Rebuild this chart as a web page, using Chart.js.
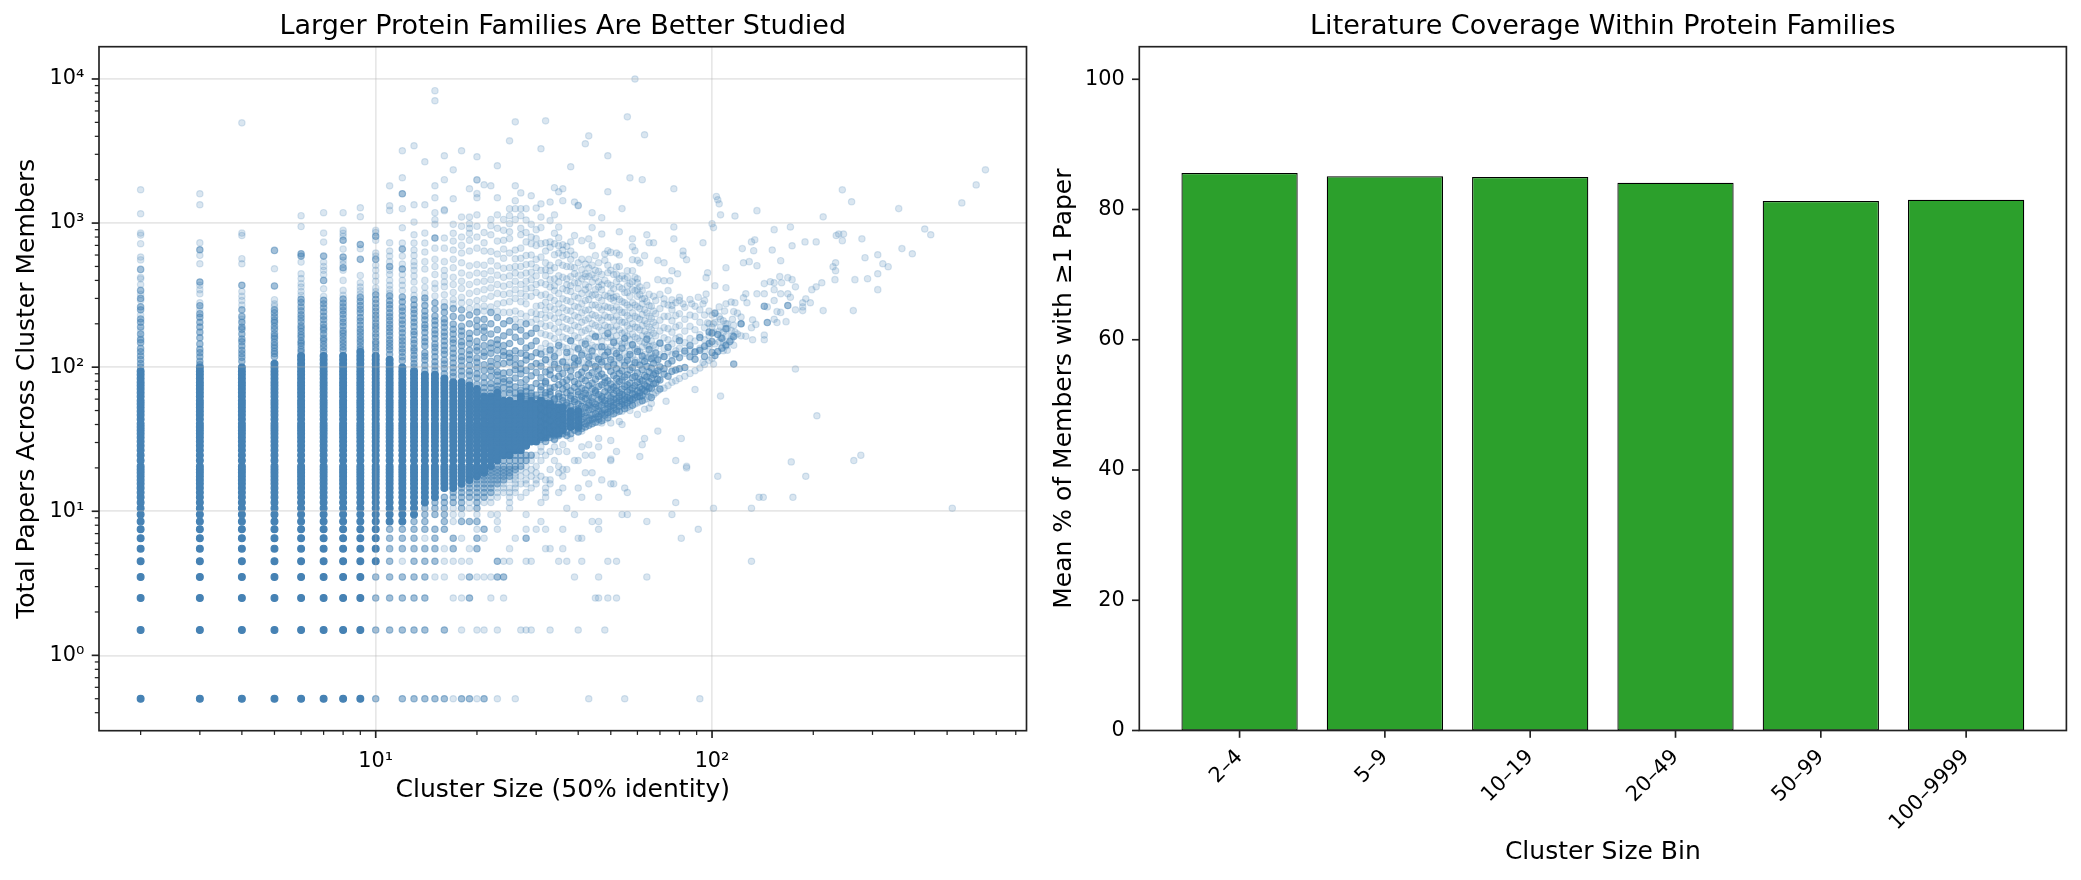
<!DOCTYPE html>
<html>
<head>
<meta charset="utf-8">
<style>
    html, body { margin: 0; background: #fff; }
    canvas { position: absolute; top: 0; }
</style>
<script src="https://cdn.jsdelivr.net/npm/chart.js@4"></script>
</head>
<body>
<canvas id="scatter-box" width="1040" height="880" style="left:0"></canvas>
<canvas id="bar-box" width="1041" height="880" style="left:1040px"></canvas>
<script>
// right panel
const categories = ['2–4', '5–9', '10–19', '20–49', '50–99', '100–9999'];
const coverage = [85.6, 85.1, 85.0, 84.1, 81.3, 81.5];
const coverageTicks = [0, 20, 40, 60, 80, 100];

// left panel ticks
const xMajorTicks = [10, 100];
const xMajorLabels = ['10¹', '10²'];
const xMinorTicks = [2, 3, 4, 5, 6, 7, 8, 9, 20, 30, 40, 50, 60, 70, 80, 90, 200, 300, 400, 500, 600, 700, 800];
const yMajorTicks = [1, 10, 100, 1000, 10000];
const yMajorLabels = ['10⁰', '10¹', '10²', '10³', '10⁴'];
const yMinorTicks = [0.4, 0.5, 0.6, 0.7, 0.8, 0.9, 2, 3, 4, 5, 6, 7, 8, 9, 20, 30, 40, 50, 60, 70, 80, 90,
    200, 300, 400, 500, 600, 700, 800, 900, 2000, 3000, 4000, 5000, 6000, 7000, 8000, 9000];

// fully overplotted columns: each cluster size covers denseRows between solidBottom and solidTop
const denseRows = [0.5, 1.5, 2.5, 3.5, 4.5, 5.5, 6.5, 7.5, 8.5, 9.5, 10.5, 11.5, 12.5, 13.5, 14.5, 15.5, 16.5, 17.5, 18.5, 19.5, 20.5,
    22.5, 24.5, 26.5, 28.5, 30.5, 32.5, 34.5, 36.5, 38.5, 40.5, 43.5, 46.5, 49.5, 52.5, 55.5, 58.5, 62.5, 66.5, 70.5, 74.5, 78.5,
    83.5, 88.5, 93.5, 99.5, 105.5, 112.5, 119.5, 127.5];
const clusterSizes = [2, 3, 4, 5, 6, 7, 8, 9, 10, 11, 12, 13, 14, 15, 16, 17, 18, 19, 20, 21, 22, 23, 24, 25, 26, 27, 28, 29, 30,
    31, 32, 33, 34, 35, 36, 38, 40];
const solidBottom = [0.5, 0.5, 0.5, 0.5, 0.5, 0.5, 0.5, 0.5, 4.5, 8.5, 8.5, 9.5, 11.5, 12.5, 14, 14.5, 15, 16.5, 17, 18, 20, 22, 24, 24, 25, 26, 28, 29, 30,
    31, 32, 33, 34, 34, 35, 37, 38];
const solidTop = [95, 100, 105, 110, 120, 122, 125, 128, 125, 118, 105, 95, 92, 90, 85, 80, 82, 75, 72, 66, 64, 68, 60, 62, 58, 64, 56, 60, 58,
    60, 58, 56, 55, 54, 54, 52, 50];

// [x, y, y, ...]
const mediumColumns = [
    [2, 100, 106, 113, 120, 128, 135, 148, 155, 170, 190, 205, 216, 250, 262, 300, 341, 477],
    [3, 104, 110, 118, 126, 133, 145, 160, 175, 190, 205, 222, 235, 267, 390, 653],
    [4, 110, 117, 124, 131, 140, 150, 157, 170, 183, 190, 205, 225, 250, 370],
    [5, 118, 124, 129, 136, 142, 149, 158, 164, 171, 183, 192, 204, 212, 224, 238, 250, 366, 646],
    [6, 128, 133, 141, 147, 152, 161, 168, 177, 186, 194, 207, 219, 231, 246, 262, 281, 296, 590, 612],
    [7, 129, 137, 144, 153, 159, 170, 181, 188, 199, 213, 226, 242, 258, 275, 291, 400, 590],
    [8, 131, 138, 146, 154, 163, 172, 180, 193, 205, 218, 233, 247, 262, 279, 297, 490, 581, 760],
    [9, 133, 140, 149, 156, 165, 175, 184, 196, 209, 221, 238, 252, 268, 286, 305, 560, 710],
    [10, 130, 137, 145, 151, 162, 171, 183, 192, 203, 217, 229, 244, 259, 277, 296, 318, 560, 810],
    [11, 123, 132, 139, 147, 155, 166, 176, 187, 198, 211, 224, 238, 255, 271, 289, 312, 500],
    [12, 111, 118, 127, 134, 143, 152, 161, 173, 185, 199, 212, 228, 245, 261, 284, 307, 480, 660, 1597],
    [13, 100, 106, 114, 121, 130, 136, 146, 155, 168, 177, 191, 205, 219, 236, 251, 270, 295],
    [14, 95, 103, 112, 119, 126, 140, 150, 160, 174, 187, 197, 213, 227, 245, 268, 302],
    [15, 95, 102, 109, 118, 128, 137, 145, 158, 170, 181, 196, 210, 226, 252, 280, 788],
    [16, 90, 98, 105, 112, 123, 131, 141, 152, 164, 175, 189, 203, 216, 240, 262],
    [17, 86, 92, 99, 107, 116, 125, 135, 147, 156, 170, 183, 199, 225, 255],
    [18, 87, 94, 102, 111, 118, 129, 141, 150, 165, 178, 192, 220, 250],
    [19, 80, 88, 94, 103, 113, 122, 131, 146, 158, 172, 200, 230],
    [20, 76, 84, 90, 99, 108, 116, 130, 138, 151, 175, 192, 212, 241],
    [21, 67, 72, 78, 85, 95, 104, 119, 127, 141, 160, 178, 190, 215],
    [22, 66, 72, 77, 86, 95, 101, 110, 125, 136, 147, 170, 200, 240],
    [23, 70, 74, 80, 88, 93, 104, 115, 131, 144, 155, 182, 221],
    [24, 65, 72, 79, 83, 91, 106, 120, 128, 141, 165, 200],
    [25, 66, 70, 76, 81, 92, 108, 117, 125, 146, 175, 210],
    [26, 61, 66, 73, 84, 96, 103, 115, 130, 161, 190],
    [27, 66, 69, 78, 90, 97, 106, 125, 151, 181],
    [28, 60, 63, 68, 73, 82, 95, 112, 121, 136, 165, 200],
    [29, 63, 66, 72, 87, 101, 118, 141, 172],
    [30, 60, 64, 77, 92, 106, 126, 152, 186],
    [31, 31.5, 33.5, 36.5, 38.5, 41.5, 45.5, 46.5, 51.5, 52.5, 58.5, 61.5, 69.5, 73.5, 84.5, 101.5, 123.5],
    [32, 30.5, 34.5, 35.5, 40.5, 43.5, 44.5, 49.5, 55.5, 56.5, 63.5, 66.5, 77.5, 79.5, 92.5, 112.5],
    [33, 32.5, 35.5, 37.5, 42.5, 47.5, 50.5, 54.5, 57.5, 64.5, 67.5, 71.5, 88.5, 95.5, 131.5],
    [34, 31.5, 33.5, 38.5, 39.5, 45.5, 48.5, 53.5, 59.5, 60.5, 72.5, 83.5, 104.5, 118.5],
    [35, 33.5, 36.5, 41.5, 44.5, 46.5, 51.5, 55.5, 62.5, 65.5, 75.5, 86.5, 97.5, 141.5],
    [36, 34.5, 37.5, 39.5, 43.5, 49.5, 52.5, 58.5, 61.5, 70.5, 78.5, 90.5, 108.5],
    [37, 33.5, 35.5, 40.5, 42.5, 47.5, 54.5, 56.5, 66.5, 73.5, 81.5, 99.5, 126.5],
    [38, 34.5, 38.5, 41.5, 45.5, 48.5, 53.5, 60.5, 63.5, 68.5, 85.5, 94.5, 152.5],
    [39, 36.5, 39.5, 44.5, 46.5, 50.5, 57.5, 59.5, 72.5, 79.5, 103.5, 115.5],
    [40, 35.5, 37.5, 42.5, 49.5, 51.5, 55.5, 64.5, 67.5, 76.5, 88.5, 110.5, 134.5],
    [41, 37.5, 41.5, 43.5, 47.5, 53.5, 58.5, 62.5, 71.5, 83.5, 92.5, 121.5],
    [42, 38.5, 40.5, 45.5, 48.5, 52.5, 60.5, 65.5, 69.5, 80.5, 98.5, 144.5],
    [43, 39.5, 42.5, 44.5, 50.5, 54.5, 56.5, 63.5, 74.5, 87.5, 105.5, 117.5],
    [44, 40.5, 43.5, 46.5, 51.5, 57.5, 61.5, 70.5, 77.5, 91.5, 129.5],
    [45, 41.5, 44.5, 47.5, 52.5, 55.5, 66.5, 68.5, 82.5, 101.5, 162.5],
    [46, 43.5, 45.5, 49.5, 53.5, 59.5, 64.5, 73.5, 86.5, 96.5, 113.5],
    [47, 42.5, 47.5, 48.5, 54.5, 60.5, 62.5, 75.5, 89.5, 108.5, 138.5],
    [48, 46.5, 50.5, 56.5, 58.5, 67.5, 78.5, 84.5, 120.5],
    [49, 44.5, 48.5, 51.5, 55.5, 63.5, 71.5, 80.5, 100.5, 127.5, 171.5],
    [50, 49.5, 53.5, 57.5, 61.5, 69.5, 76.5, 93.5, 112.5],
    [51, 47.5, 52.5, 54.5, 59.5, 65.5, 72.5, 87.5, 104.5, 148.5],
    [52, 50.5, 56.5, 60.5, 68.5, 74.5, 83.5, 97.5, 124.5],
    [53, 49.5, 53.5, 58.5, 62.5, 66.5, 79.5, 90.5, 116.5],
    [54, 55.5, 57.5, 64.5, 70.5, 81.5, 94.5, 135.5],
    [55, 51.5, 54.5, 59.5, 63.5, 73.5, 85.5, 102.5, 158.5],
    [56, 56.5, 61.5, 67.5, 75.5, 88.5, 111.5],
    [57, 58.5, 60.5, 69.5, 77.5, 95.5, 122.5],
    [58, 54.5, 59.5, 65.5, 71.5, 84.5, 99.5, 143.5],
    [59, 61.5, 64.5, 74.5, 86.5, 107.5],
    [60, 62.5, 68.5, 78.5, 91.5, 128.5],
    [61, 62.5, 66.5, 72.5, 82.5, 103.5],
    [62, 58.5, 63.5, 70.5, 80.5, 96.5, 119.5],
    [63, 68.5, 75.5, 87.5, 109.5],
    [64, 67.5, 73.5, 85.5, 101.5, 156.5],
    [65, 71.5, 79.5, 92.5, 132.5],
    [66, 61.5, 71.5, 83.5, 98.5, 114.5],
    [67, 76.5, 88.5, 106.5],
    [68, 77.5, 90.5, 125.5],
    [69, 82.5, 94.5, 112.5],
    [70, 70.5, 81.5, 100.5, 146.5],
    [72, 89.5, 97.5, 118.5],
    [74, 86.5, 105.5, 137.5],
    [76, 93.5, 110.5],
    [78, 95.5, 123.5],
    [80, 97.5, 116.5, 152.5],
    [83, 99.5, 129.5],
    [86, 118, 141.5],
    [89, 113.5, 127.5],
    [92, 131, 160.5],
    [95, 118.5, 139.5],
    [98, 146, 175.5],
    [100, 126.5, 150.5, 172.5],
    [102, 120.5, 237],
    [104, 128.5, 168.5],
    [107, 135.5, 158.5],
    [110, 142.5, 185],
    [113, 150.5],
    [116, 105, 163],
    [122, 200],
    [143, 265],
    [146, 204],
    [168, 268]
];

const lightColumns = [
    [2, 1703, 1160, 852, 825, 719, 581, 555, 420, 410, 375, 320, 290, 230, 180, 160],
    [3, 1597, 1340, 730, 597, 522, 370, 345, 323, 280, 250],
    [4, 4960, 852, 820, 566, 522, 335, 310, 290, 270, 215],
    [5, 482, 294, 275, 265],
    [6, 1125, 947, 536, 445, 412, 380, 360, 335, 315],
    [7, 1180, 852, 738, 536, 500, 470, 440, 350, 310],
    [8, 1180, 890, 850, 810, 660, 550, 520, 470, 400, 341, 315],
    [9, 1277, 1106, 663, 433, 385, 360, 340, 322],
    [10, 890, 860, 760, 620, 590, 510, 470, 430, 395, 355, 335],
    [11, 1813, 1319, 1224, 730, 640, 590, 540, 470, 440, 400, 370, 345, 325],
    [12, 3175, 2063, 1258, 928, 727, 590, 520, 440, 400, 370, 340],
    [13, 3441, 1340, 1016, 830, 727, 650, 540, 470, 430, 390, 315, 345, 505, 596],
    [14, 2663, 1340, 852, 727, 630, 540, 480, 400, 358, 326, 288],
    [15, 8290, 7060, 1815, 1499, 1180, 1055, 980, 670, 560, 500, 440, 380, 312, 352],
    [16, 2932, 2000, 1236, 1220, 788, 670, 540, 470, 430, 390, 318, 362, 283],
    [17, 2340, 1475, 980, 850, 750, 650, 560, 490, 420, 375, 330, 295, 275],
    [18, 3175, 1100, 950, 800, 700, 620, 530, 450, 395, 352, 305, 280],
    [19, 1730, 1100, 990, 850, 760, 640, 505, 435, 375, 325, 282, 255, 920],
    [20, 2886, 2000, 1990, 1600, 1499, 1140, 800, 670, 515, 450, 390, 335, 290, 262, 950],
    [21, 1843, 730, 640, 510, 445, 395, 345, 298, 265, 245, 860],
    [22, 1815, 1060, 830, 635, 545, 465, 405, 355, 310, 262, 960],
    [23, 2500, 1499, 1140, 920, 750, 610, 505, 435, 375, 325, 275, 245],
    [24, 760, 660, 570, 485, 420, 365, 320, 280, 240, 890, 1060],
    [25, 3720, 1258, 1125, 870, 620, 490, 430, 375, 325, 285, 240, 780, 990],
    [26, 5040, 1815, 1430, 1258, 650, 565, 500, 450, 395, 345, 300, 245, 215, 1060],
    [27, 1620, 1258, 1125, 920, 670, 570, 500, 435, 375, 325, 285, 235, 205, 830],
    [28, 1050, 740, 595, 515, 450, 395, 350, 310, 275, 225, 860, 1260],
    [29, 1547, 980, 800, 600, 520, 455, 405, 355, 310, 240, 205, 720],
    [30, 1270, 900, 700, 560, 490, 430, 375, 330, 265, 235, 215, 780],
    [31, 3280, 1360, 1100, 930, 720, 580, 470, 385, 315, 268, 232, 200, 172, 135, 107, 26, 28],
    [32, 5120, 730, 474, 431, 640, 530, 375, 320, 282, 250, 220, 192, 168, 146, 128, 112],
    [33, 1400, 1040, 740, 510, 467, 405, 680, 360, 305, 262, 228, 195, 165, 140, 122, 108, 26],
    [34, 1760, 1140, 718, 603, 367, 850, 490, 410, 340, 290, 252, 218, 185, 158, 132, 115, 100, 28, 32],
    [35, 1650, 940, 696, 530, 431, 790, 620, 390, 325, 275, 238, 205, 175, 148, 126, 105, 26],
    [36, 1730, 1430, 707, 594, 650, 510, 420, 350, 298, 258, 222, 190, 162, 138, 110, 29],
    [37, 603, 373, 690, 500, 410, 340, 290, 248, 215, 185, 158, 135, 118, 102, 26],
    [38, 2460, 740, 498, 367, 640, 560, 425, 335, 285, 245, 210, 180, 152, 128, 108, 32],
    [39, 1400, 820, 445, 600, 490, 385, 310, 265, 228, 195, 165, 138, 115, 100],
    [40, 1330, 1320, 385, 530, 430, 350, 302, 260, 222, 190, 160, 132, 105, 36],
    [41, 755, 474, 560, 410, 325, 275, 238, 205, 175, 148, 125, 108, 36, 28],
    [42, 3550, 425, 373, 520, 445, 345, 290, 248, 212, 180, 152, 130, 100],
    [43, 4030, 777, 488, 427, 323, 560, 360, 295, 250, 218, 185, 158, 135, 112, 29],
    [44, 1180, 930, 696, 438, 510, 390, 315, 270, 232, 200, 170, 142, 120, 105],
    [45, 594, 345, 470, 415, 320, 270, 228, 195, 165, 138, 118, 100],
    [46, 462, 392, 530, 360, 305, 260, 220, 190, 162, 138, 115, 41.5, 28, 32],
    [47, 1090, 840, 373, 440, 345, 290, 250, 212, 180, 152, 128, 104, 41],
    [48, 551, 610, 400, 315, 265, 228, 195, 165, 138, 110, 43.5],
    [49, 2930, 1650, 643, 452, 510, 380, 310, 260, 222, 190, 160, 132, 102],
    [50, 626, 328, 470, 370, 300, 258, 222, 190, 162, 138, 118, 46.5, 41, 31, 23],
    [51, 306, 440, 350, 290, 248, 212, 180, 152, 130, 108],
    [52, 620, 495, 392, 440, 310, 262, 225, 192, 165, 140, 120, 48.5, 26],
    [53, 870, 600, 411, 500, 360, 295, 250, 212, 182, 152, 128, 105, 42],
    [54, 1260, 430, 350, 285, 240, 205, 172, 145, 112, 49.5, 40],
    [55, 410, 330, 280, 240, 205, 175, 148, 125, 108],
    [56, 5460, 467, 367, 420, 330, 270, 228, 195, 165, 140, 118, 52.5],
    [57, 2060, 380, 310, 260, 218, 185, 155, 130, 105, 53.5, 50],
    [58, 777, 685, 557, 467, 392, 345, 280, 238, 200, 170, 142, 120],
    [59, 10000, 643, 420, 340, 270, 225, 190, 162, 135, 112, 55.5],
    [60, 551, 385, 345, 410, 310, 262, 220, 188, 158, 132, 108, 56.5, 47],
    [61, 528, 361, 320, 255, 215, 182, 152, 128, 57.5, 24],
    [62, 2000, 298, 340, 275, 232, 195, 165, 138, 112, 29],
    [63, 4100, 594, 300, 250, 210, 178, 148, 122, 59.5, 51, 32],
    [64, 830, 370, 285, 238, 200, 168, 142, 115, 60.5],
    [65, 730, 320, 268, 225, 190, 165, 140, 118, 62.5, 52],
    [66, 265, 218, 182, 152, 125, 56],
    [67, 730, 310, 245, 205, 172, 142, 118, 64.5],
    [68, 290, 235, 195, 165, 138, 112, 66.5],
    [69, 551, 405, 68.5, 36],
    [70, 320, 255, 212, 178, 148, 122],
    [72, 530, 398, 298, 275, 225, 188, 160, 135, 118, 71.5],
    [73, 58],
    [74, 340, 270, 225, 185, 155, 128, 74.5],
    [75, 398],
    [76, 467, 293, 268, 250, 210, 175, 145, 122, 78.5],
    [77, 1730, 940, 777],
    [78, 280, 228, 190, 158, 130, 80.5, 22.5],
    [79, 445],
    [80, 306, 290, 235, 195, 162, 135, 83.5],
    [81, 32],
    [82, 640, 597, 275],
    [83, 260, 215, 178, 148, 125, 86.5],
    [84, 557, 20],
    [86, 295, 230, 192, 158, 132, 90.5],
    [87, 275],
    [89, 265, 225, 182, 152, 128, 94.5, 70],
    [91, 306],
    [92, 250, 205, 168, 135, 98.5],
    [94, 730, 275, 108],
    [95, 290, 230, 188, 155, 130, 104.5],
    [96, 418, 322],
    [97, 452, 203],
    [98, 245, 200, 165, 140, 111.5],
    [100, 990, 230, 190, 115.5],
    [101, 930, 200, 175, 105],
    [102, 367, 205, 145],
    [103, 1530],
    [104, 1450],
    [105, 1360, 262, 225, 178, 150],
    [106, 1140, 215, 190, 160, 63],
    [108, 210, 175, 149, 130],
    [109, 245],
    [110, 356, 490, 275, 200, 165, 140],
    [111, 200, 131, 185],
    [114, 283, 180, 155],
    [115, 215, 165],
    [116, 243, 142, 195],
    [117, 1120, 280, 175],
    [119, 237, 170],
    [122, 223, 200, 165],
    [123, 665],
    [124, 530, 303],
    [126, 323, 164],
    [127, 280],
    [129, 540],
    [131, 740, 188],
    [132, 213, 155],
    [133, 643],
    [134, 765],
    [135, 198],
    [136, 1220, 506, 323],
    [143, 380, 323, 167, 155],
    [146, 262],
    [149, 392],
    [151, 650],
    [153, 900, 385, 345, 290, 215],
    [156, 243, 204],
    [159, 425],
    [160, 548, 323, 240],
    [161, 385],
    [166, 207],
    [168, 418, 323],
    [171, 940, 306],
    [172, 22],
    [173, 696, 405],
    [177, 361, 250, 97],
    [186, 280, 262, 247],
    [189, 740],
    [190, 298],
    [196, 280],
    [198, 345],
    [204, 740, 361],
    [205, 46],
    [212, 385],
    [214, 1105, 247],
    [229, 498],
    [232, 405],
    [233, 467, 530],
    [234, 820],
    [238, 840],
    [244, 1700, 755],
    [246, 840],
    [260, 1405],
    [263, 247],
    [266, 405],
    [279, 777],
    [285, 575],
    [290, 411],
    [311, 603, 445, 345],
    [322, 522],
    [334, 498],
    [359, 1260],
    [367, 665],
    [394, 612],
    [429, 910],
    [447, 830],
    [553, 1380],
    [610, 1840],
    [650, 2340]
];

// [y, x, x, ...] for the discrete low rows
const mediumRows = [
    [0.5, 10, 12, 13, 14, 15, 16, 18, 19, 21],
    [1.5, 10, 11, 12, 13, 14, 16],
    [2.5, 10, 11, 12, 13, 14, 19],
    [3.5, 10, 11, 12, 13, 14, 19, 23, 24],
    [4.5, 11, 13, 14, 15, 23],
    [5.5, 11, 12, 13, 14, 15, 17, 20],
    [6.5, 11, 12, 13, 15, 17, 20, 28],
    [7.5, 11, 12, 13, 14, 15, 16, 21],
    [8.5, 13, 14, 16, 18, 19, 20],
    [9.5, 14, 15, 16],
    [10.5, 14, 15, 16, 18, 20],
    [11.5, 15, 16, 17, 18, 20],
    [12.5, 16, 17, 18, 19, 20, 21],
    [13.5, 17, 18, 19, 20, 21, 22],
    [14.5, 18, 19, 20, 21, 22],
    [15.5, 19, 20, 21, 22, 23],
    [16.5, 19, 20, 21, 22, 23, 24],
    [17.5, 20, 21, 22, 23, 24, 25],
    [18.5, 22, 23, 24, 25],
    [19.5, 22, 23, 24, 25, 26],
    [20.5, 23, 24, 25, 26, 27],
    [22.5, 24, 25, 26, 27, 28],
    [24.5, 25, 26, 27, 28, 29]
];
const lightRows = [
    [0.5, 17, 20, 23, 26, 43, 55, 92],
    [1.5, 18, 20, 21, 23, 27, 28, 29, 33, 40, 48],
    [2.5, 17, 18, 22, 24, 45, 46, 49, 52],
    [3.5, 15, 16, 18, 20, 21, 22, 39, 46, 64],
    [4.5, 12, 16, 17, 18, 19, 24, 25, 28, 29, 35, 37, 41, 49, 52, 131],
    [5.5, 16, 19, 25, 32, 33, 36],
    [6.5, 14, 18, 21, 26, 40, 41, 81],
    [7.5, 20, 23, 28, 30, 32, 36, 46, 91],
    [8.5, 17, 23, 31, 44, 46, 64],
    [9.5, 17, 18, 20, 22, 23, 28, 39, 54, 56, 76],
    [10.5, 17, 19, 25, 37, 101, 131, 518],
    [11.5, 19, 21, 22, 25, 31, 78],
    [12.5, 22, 23, 25, 27, 32, 41, 46, 138, 142, 174],
    [13.5, 23, 24, 25, 26, 28, 32, 35, 56],
    [14.5, 23, 24, 25, 26, 29, 32, 36, 40, 55],
    [15.5, 24, 26, 27, 28, 30, 33, 43, 50, 51],
    [16.5, 25, 26, 28, 30, 32, 33, 47],
    [17.5, 26, 27, 29, 31, 36, 104, 190],
    [18.5, 26, 28, 30, 35, 42, 44],
    [19.5, 27, 29, 33, 36, 37],
    [20.5, 28, 30, 35, 84],
    [22.5, 29, 31, 34, 39, 40, 50, 264],
    [24.5, 30, 32, 42, 44, 277]
];

const fontFamily = '"DejaVu Sans"';
const textColor = '#000';
const spineColor = '#222';

const fromColumns = list => list.flatMap(([x, ...ys]) => ys.map(y => ({x, y})));
const fromRows = list => list.flatMap(([y, ...xs]) => xs.map(x => ({x, y})));
const solidPoints = clusterSizes.flatMap((x, i) =>
    denseRows.filter(y => y >= solidBottom[i] && y <= solidTop[i]).map(y => ({x, y})));

const pointDataset = (data, alpha, radius) => ({
    data,
    backgroundColor: 'rgba(70, 130, 180, ' + alpha + ')',
    borderColor: 'rgba(70, 130, 180, ' + alpha + ')',
    borderWidth: 1.2,
    pointRadius: radius
});

// frame and matplotlib style long/short ticks
const axesFrame = {
    id: 'axesFrame',
    afterDraw(chart) {
        const {ctx, chartArea: a, scales} = chart;
        ctx.save();
        ctx.strokeStyle = spineColor;
        for (const t of scales.x.ticks) {
            const px = scales.x.getPixelForValue(t.value);
            ctx.lineWidth = t.major ? 1.67 : 1.25;
            ctx.beginPath();
            ctx.moveTo(px, a.bottom);
            ctx.lineTo(px, a.bottom + (t.major ? 7.3 : 4.2));
            ctx.stroke();
        }
        for (const t of scales.y.ticks) {
            const py = scales.y.getPixelForValue(t.value);
            ctx.lineWidth = t.major ? 1.67 : 1.25;
            ctx.beginPath();
            ctx.moveTo(a.left, py);
            ctx.lineTo(a.left - (t.major ? 7.3 : 4.2), py);
            ctx.stroke();
        }
        ctx.lineWidth = 1.67;
        ctx.strokeRect(a.left, a.top, a.width, a.height);
        ctx.restore();
    }
};

const titleOptions = text => ({
    display: true,
    text,
    color: textColor,
    fullSize: false,
    font: {family: fontFamily, size: 27, weight: 'normal'},
    padding: {top: 10.8, bottom: 3.5}
});
const axisTitle = (text, padding) => ({
    display: true,
    text,
    color: textColor,
    font: {family: fontFamily, size: 25},
    padding
});
const tickFont = {family: fontFamily, size: 20.8};

const logTicks = (major, minor) => axis => {
    axis.ticks = major.map(value => ({value, major: true}))
        .concat(minor.map(value => ({value, major: false})));
};
const logLabels = (major, labels) => value => {
    const i = major.indexOf(value);
    return i < 0 ? '' : labels[i];
};
const logGrid = {
    z: 1,
    drawTicks: false,
    lineWidth: 1.67,
    color: c => c.tick && c.tick.major ? 'rgba(176, 176, 176, 0.3)' : 'rgba(0, 0, 0, 0)'
};

new Chart(document.getElementById('scatter-box'), {
    type: 'scatter',
    data: {
        datasets: [
            pointDataset(fromColumns(lightColumns).concat(fromRows(lightRows)), 0.2, 3.2),
            pointDataset(fromColumns(mediumColumns).concat(fromRows(mediumRows)), 0.5, 3.2),
            pointDataset(solidPoints, 1, 3.4)
        ]
    },
    plugins: [axesFrame],
    options: {
        responsive: false,
        animation: false,
        layout: {autoPadding: false, padding: {left: 0, right: 13.5, top: 0, bottom: 0}},
        plugins: {
            legend: {display: false},
            tooltip: {enabled: false},
            title: titleOptions('Larger Protein Families Are Better Studied')
        },
        scales: {
            x: {
                type: 'logarithmic',
                min: 1.504,
                max: 861,
                grid: logGrid,
                border: {display: false},
                title: axisTitle('Cluster Size (50% identity)', {top: 0, bottom: 74.5}),
                afterBuildTicks: logTicks(xMajorTicks, xMinorTicks),
                afterFit: s => { s.height = 149.3; },
                ticks: {
                    autoSkip: false, maxRotation: 0, minRotation: 0, padding: 18,
                    color: textColor, font: tickFont,
                    callback: logLabels(xMajorTicks, xMajorLabels)
                }
            },
            y: {
                type: 'logarithmic',
                min: 0.302,
                max: 16750,
                grid: logGrid,
                border: {display: false},
                title: axisTitle('Total Papers Across Cluster Members', {top: 12, bottom: 0}),
                afterBuildTicks: logTicks(yMajorTicks, yMinorTicks),
                afterFit: s => { s.width = 99; },
                ticks: {
                    autoSkip: false, padding: 14.6,
                    color: textColor, font: tickFont,
                    callback: logLabels(yMajorTicks, yMajorLabels)
                }
            }
        }
    }
});

new Chart(document.getElementById('bar-box'), {
    type: 'bar',
    data: {
        datasets: [{
            data: coverage.map((y, x) => ({x, y})),
            backgroundColor: '#2ca02c',
            borderColor: '#000',
            borderWidth: 1.25,
            borderSkipped: false,
            categoryPercentage: 0.8,
            barPercentage: 1
        }]
    },
    plugins: [axesFrame],
    options: {
        responsive: false,
        animation: false,
        layout: {autoPadding: false, padding: {left: 0, right: 14.6, top: 0, bottom: 0}},
        plugins: {
            legend: {display: false},
            tooltip: {enabled: false},
            title: titleOptions('Literature Coverage Within Protein Families')
        },
        scales: {
            x: {
                type: 'linear',
                offset: false,
                min: -0.69,
                max: 5.69,
                grid: {display: false, drawTicks: false, offset: false},
                border: {display: false},
                title: axisTitle('Cluster Size Bin', {top: 0, bottom: 12.4}),
                afterBuildTicks: axis => {
                    axis.ticks = categories.map((c, value) => ({value, major: true}));
                },
                afterFit: s => { s.height = 149.5; },
                ticks: {
                    autoSkip: false, maxRotation: 45, minRotation: 45, padding: 14.6,
                    color: textColor, font: tickFont,
                    callback: (value) => categories[value]
                }
            },
            y: {
                min: 0,
                max: 105,
                grid: {display: false, drawTicks: false},
                border: {display: false},
                title: axisTitle('Mean % of Members with ≥1 Paper', {top: 9.75, bottom: 0}),
                afterBuildTicks: axis => {
                    axis.ticks = coverageTicks.map(value => ({value, major: true}));
                },
                afterFit: s => { s.width = 99.3; },
                ticks: {
                    padding: 14.6,
                    color: textColor, font: tickFont
                }
            }
        }
    }
});
</script>
</body>
</html>
